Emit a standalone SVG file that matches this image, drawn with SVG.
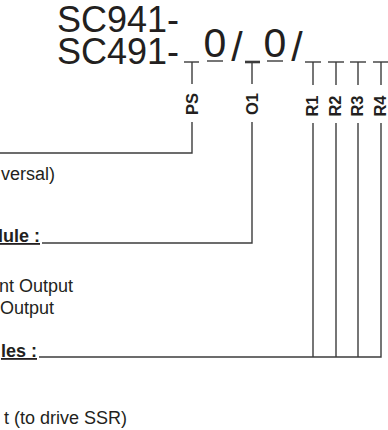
<svg xmlns="http://www.w3.org/2000/svg" width="388" height="430" viewBox="0 0 388 430">
<style>
.ln{stroke:#3c3c3c;stroke-width:1.4;fill:none}
.big{font-family:"Liberation Sans",Arial,sans-serif;font-size:41px;fill:#231f20;text-anchor:middle}
.code{font-family:"Liberation Sans",Arial,sans-serif;font-size:36px;fill:#231f20;text-anchor:end}
.lab{font-family:"Liberation Sans",Arial,sans-serif;font-size:16.5px;font-weight:bold;fill:#231f20;text-anchor:middle}
.txt{font-family:"Liberation Sans",Arial,sans-serif;font-size:18px;fill:#231f20;text-anchor:end}
.hd{font-family:"Liberation Sans",Arial,sans-serif;font-size:18px;font-weight:bold;fill:#231f20;text-anchor:end;text-decoration:underline}
</style>
<rect width="388" height="430" fill="#fff"/>
<g id="model-code">
<text class="code"><tspan x="179" y="32">SC941-</tspan><tspan x="179" y="64">SC491-</tspan></text>
<text class="big" x="215" y="57">0</text>
<line class="ln" x1="207" y1="61" x2="223" y2="61"/>
<text class="big" x="237" y="61">/</text>
<text class="big" x="275" y="57">0</text>
<line class="ln" x1="267" y1="61" x2="283" y2="61"/>
<text class="big" x="297" y="61">/</text>
</g>
<g id="PS">
<line class="ln" x1="184" y1="62" x2="199" y2="62"/>
<line class="ln" x1="192" y1="62" x2="192" y2="84"/>
<text class="lab" transform="translate(197.5,104) rotate(-90)">PS</text>
</g>
<g id="O1">
<line class="ln" x1="245" y1="62" x2="260" y2="62" style="stroke-width:2.6"/>
<line class="ln" x1="252" y1="62" x2="252" y2="84"/>
<text class="lab" transform="translate(257.5,104) rotate(-90)">O1</text>
</g>
<g id="R1">
<line class="ln" x1="305" y1="62" x2="321" y2="62"/>
<line class="ln" x1="313" y1="62" x2="313" y2="85"/>
<text class="lab" transform="translate(318,106) rotate(-90)">R1</text>
</g>
<g id="R2">
<line class="ln" x1="328" y1="62" x2="344" y2="62"/>
<line class="ln" x1="336" y1="62" x2="336" y2="85"/>
<text class="lab" transform="translate(341,106) rotate(-90)">R2</text>
</g>
<g id="R3">
<line class="ln" x1="350" y1="62" x2="366" y2="62"/>
<line class="ln" x1="358" y1="62" x2="358" y2="85"/>
<text class="lab" transform="translate(363,106) rotate(-90)">R3</text>
</g>
<g id="R4">
<line class="ln" x1="373" y1="62" x2="388" y2="62"/>
<line class="ln" x1="381" y1="62" x2="381" y2="85"/>
<text class="lab" transform="translate(386,106) rotate(-90)">R4</text>
</g>
<g id="texts">
<text class="txt" x="55" y="180">versal)</text>
<text class="hd" x="40" y="242">dule :</text>
<text class="txt" x="73" y="292">nt Output</text>
<text class="txt" x="54" y="314">Output</text>
<text class="hd" x="37" y="357">les :</text>
<text class="txt" x="127" y="424">t (to drive SSR)</text>
</g>
<g id="connectors">
<polyline class="ln" points="192,122 192,153 0,153"/>
<polyline class="ln" points="252,122 252,243 42,243"/>
<polyline class="ln" points="381,123 381,357 39,357"/>
<line class="ln" x1="313" y1="123" x2="313" y2="357"/>
<line class="ln" x1="336" y1="123" x2="336" y2="357"/>
<line class="ln" x1="358" y1="123" x2="358" y2="357"/>
</g>
</svg>
